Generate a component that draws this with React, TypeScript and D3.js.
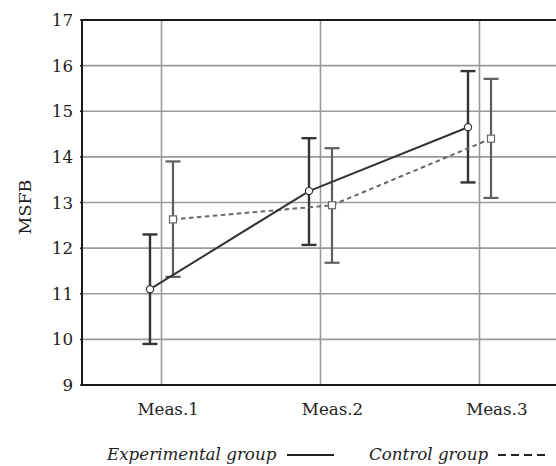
import React from "react";
import * as d3 from "d3";

const categories = ["Meas.1", "Meas.2", "Meas.3"];
const expMean = [11.1, 13.25, 14.65];
const expLow = [9.9, 12.07, 13.44];
const expHigh = [12.3, 14.41, 15.88];
const ctrlMean = [12.63, 12.94, 14.4];
const ctrlLow = [11.37, 11.68, 13.1];
const ctrlHigh = [13.9, 14.19, 15.71];
const yTicks = [9, 10, 11, 12, 13, 14, 15, 16, 17];

const W = 556;
const H = 466;
const L = 82;
const T = 20;
const B = 385;
const FONT = "'DejaVu Serif', serif";
const FS = 16.7;

export default function App() {
  const x = d3.scalePoint<string>().domain(categories).range([L, 559]).padding(0.5);
  const labelX = d3.scalePoint<string>().domain(categories).range([86, 579]).padding(0.5);
  const y = d3.scaleLinear().domain([9, 17]).range([B, T]);
  const off = 11.5;
  const cap = 7.5;

  const expPts: [number, number][] = categories.map((c, i) => [(x(c) as number) - off, y(expMean[i])]);
  const ctrlPts: [number, number][] = categories.map((c, i) => [(x(c) as number) + off, y(ctrlMean[i])]);
  const line = d3.line();

  return (
    <svg width={W} height={H} style={{ position: "absolute", left: 0, top: 0, background: "#fff" }}>
      {/* grid */}
      {yTicks.slice(1, -1).map((t) => (
        <line key={"h" + t} x1={L} x2={W} y1={y(t)} y2={y(t)} stroke="#9a9a9a" strokeWidth={1.6} />
      ))}
      {categories.map((c) => (
        <line key={"v" + c} x1={x(c)} x2={x(c)} y1={T} y2={B} stroke="#9a9a9a" strokeWidth={1.6} />
      ))}
      {/* axes */}
      <line x1={L} x2={W} y1={T} y2={T} stroke="#1a1a1a" strokeWidth={2} />
      <line x1={L} x2={W} y1={B} y2={B} stroke="#1a1a1a" strokeWidth={2} />
      <line x1={L} x2={L} y1={T - 1} y2={B + 1} stroke="#1a1a1a" strokeWidth={2} />
      {yTicks.map((t) => (
        <g key={"t" + t}>
          <line x1={L - 2} x2={L} y1={y(t)} y2={y(t)} stroke="#1a1a1a" strokeWidth={1.5} />
          <text x={73} y={y(t)} dy="0.36em" textAnchor="end" fontFamily={FONT} fontSize={FS} fill="#1e1e1e">
            {t}
          </text>
        </g>
      ))}
      {categories.map((c) => (
        <text key={"xl" + c} x={labelX(c)} y={415} textAnchor="middle" fontFamily={FONT} fontSize={FS} fill="#1e1e1e">
          {c}
        </text>
      ))}
      <text
        transform={`translate(31,207) rotate(-90)`}
        textAnchor="middle"
        fontFamily={FONT}
        fontSize={17.5}
        fill="#1e1e1e"
      >
        MSFB
      </text>

      {/* control error bars */}
      {categories.map((c, i) => {
        const cx = (x(c) as number) + off;
        return (
          <g key={"ce" + c} stroke="#5e5e5e" strokeWidth={2.2}>
            <line x1={cx} x2={cx} y1={y(ctrlLow[i])} y2={y(ctrlHigh[i])} />
            <line x1={cx - cap} x2={cx + cap} y1={y(ctrlLow[i])} y2={y(ctrlLow[i])} />
            <line x1={cx - cap} x2={cx + cap} y1={y(ctrlHigh[i])} y2={y(ctrlHigh[i])} />
          </g>
        );
      })}
      {/* exp error bars */}
      {categories.map((c, i) => {
        const cx = (x(c) as number) - off;
        return (
          <g key={"ee" + c} stroke="#333" strokeWidth={2.4}>
            <line x1={cx} x2={cx} y1={y(expLow[i])} y2={y(expHigh[i])} />
            <line x1={cx - cap} x2={cx + cap} y1={y(expLow[i])} y2={y(expLow[i])} />
            <line x1={cx - cap} x2={cx + cap} y1={y(expHigh[i])} y2={y(expHigh[i])} />
          </g>
        );
      })}
      {/* lines */}
      <path d={line(ctrlPts) || ""} fill="none" stroke="#666" strokeWidth={2} strokeDasharray="4.5,3.5" />
      <path d={line(expPts) || ""} fill="none" stroke="#333" strokeWidth={2} />
      {ctrlPts.map((p, i) => (
        <rect key={"cs" + i} x={p[0] - 3.5} y={p[1] - 3.5} width={7} height={7} fill="#fff" stroke="#666" strokeWidth={1.2} />
      ))}
      {expPts.map((p, i) => (
        <circle key={"ec" + i} cx={p[0]} cy={p[1]} r={3.6} fill="#fff" stroke="#333" strokeWidth={1.2} />
      ))}

      {/* legend */}
      <text x={107} y={460} fontFamily={FONT} fontStyle="italic" fontSize={FS} fill="#1e1e1e">
        Experimental group
      </text>
      <line x1={287} x2={334} y1={455} y2={455} stroke="#222" strokeWidth={2} />
      <text x={369} y={460} fontFamily={FONT} fontStyle="italic" fontSize={FS} fill="#1e1e1e">
        Control group
      </text>
      <line x1={498} x2={545} y1={455} y2={455} stroke="#222" strokeWidth={2} strokeDasharray="8,5" />
    </svg>
  );
}
